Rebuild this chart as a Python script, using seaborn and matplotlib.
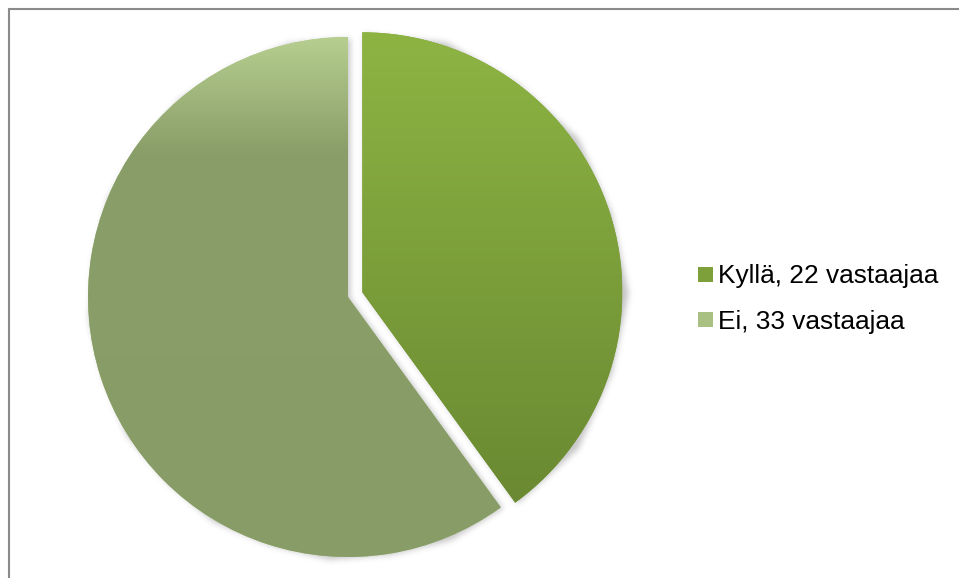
import numpy as np
import matplotlib
matplotlib.use("Agg")
import matplotlib.pyplot as plt
from matplotlib.colors import to_rgb
from matplotlib.lines import Line2D
import seaborn as sns

# Survey answers
labels = ["Kyllä, 22 vastaajaa", "Ei, 33 vastaajaa"]
counts = [22, 33]
explode = [0.058, 0.0]

# Flat colours (legend keys) and vertical gradient stops for each slice
key_colors = ["#7da03a", "#a8c182"]
gradients = [
    [(0.0, "#6a8932"), (1.0, "#8db443")],                     # Kyllä: bottom -> top
    [(0.0, "#889c67"), (0.78, "#8a9e69"), (1.0, "#b6ce8f")],  # Ei: bottom -> top
]

sns.set_theme(style="white")
plt.rcParams["font.family"] = ["Liberation Sans", "DejaVu Sans"]

W, H = 959, 578
fig = plt.figure(figsize=(W / 100, H / 100), dpi=100)
ax = fig.add_axes([0, 0, 1, 1])

R = 260.0          # pie radius in pixels
cx, cy = 348, 281  # pie centre in pixels (from lower left)
xlim = (-cx / R, (W - cx) / R)
ylim = (-cy / R, (H - cy) / R)

wedges, _ = ax.pie(
    counts,
    explode=explode,
    startangle=90,
    counterclock=False,
    radius=1.0,
    colors=key_colors,
    wedgeprops=dict(linewidth=0, zorder=1),
)

# Soft drop shadow under the slices
xs = np.linspace(xlim[0], xlim[1], W)
ys = np.linspace(ylim[0], ylim[1], H)
X, Y = np.meshgrid(xs, ys)
pts = np.column_stack([X.ravel(), Y.ravel()])
mask = np.zeros(H * W, dtype=bool)
for w in wedges:
    p = w.get_path().transformed(w.get_patch_transform())
    mask |= p.contains_points(pts)
mask = mask.reshape(H, W).astype(float)
sig = 3.0
k = np.arange(-10, 11)
kern = np.exp(-0.5 * (k / sig) ** 2)
kern /= kern.sum()
blur = np.apply_along_axis(lambda r: np.convolve(r, kern, mode="same"), 1, mask)
blur = np.apply_along_axis(lambda c: np.convolve(c, kern, mode="same"), 0, blur)
shadow = np.zeros((H, W, 4))
shadow[..., :3] = 0.35
shadow[..., 3] = blur * 0.35
off = 1.5 / R
ax.imshow(shadow, extent=(xlim[0] + off, xlim[1] + off, ylim[0] - off, ylim[1] - off),
          origin="lower", aspect="auto", zorder=0.5, interpolation="bilinear")

# Vertical gradient fill clipped to each slice
for w, stops in zip(wedges, gradients):
    ext = w.get_path().transformed(w.get_patch_transform()).get_extents()
    t = np.linspace(0, 1, 256)
    pos = [s[0] for s in stops]
    cols = np.array([to_rgb(s[1]) for s in stops])
    grad = np.stack([np.interp(t, pos, cols[:, i]) for i in range(3)], axis=-1)
    im = ax.imshow(grad[:, None, :], extent=(ext.x0, ext.x1, ext.y0, ext.y1),
                   origin="lower", aspect="auto", zorder=1.5, interpolation="bilinear")
    im.set_clip_path(w)

ax.set_xlim(*xlim)
ax.set_ylim(*ylim)
ax.set_aspect("auto")
ax.axis("off")

leg = ax.legend(
    wedges, labels,
    loc="center left",
    bbox_to_anchor=(698 / W, 279 / H),
    bbox_transform=fig.transFigure,
    frameon=False,
    fontsize=18.9,
    handlelength=0.58,
    handleheight=0.5,
    handletextpad=0.2,
    labelspacing=0.8,
    borderpad=0,
    borderaxespad=0,
)
for t in leg.get_texts():
    t.set_color("#000000")

# Chart area border (top and left edges visible)
bc = "#8a8a8a"
fig.add_artist(Line2D([8.5 / W, 8.5 / W], [0, (H - 8.5) / H], transform=fig.transFigure,
                      color=bc, linewidth=1.5))
fig.add_artist(Line2D([8.5 / W, 1], [(H - 8.5) / H, (H - 8.5) / H], transform=fig.transFigure,
                      color=bc, linewidth=1.5))

fig.savefig("out.png", dpi=100)
